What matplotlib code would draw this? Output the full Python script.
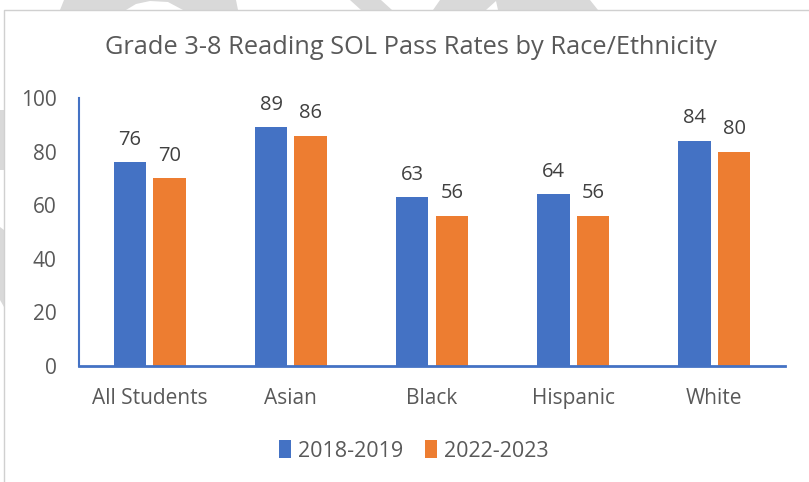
import numpy as np
import matplotlib.pyplot as plt
from matplotlib.patches import Polygon

categories = ["All Students", "Asian", "Black", "Hispanic", "White"]
rates_2019 = [76, 89, 63, 64, 84]
rates_2023 = [70, 86, 56, 56, 80]
series_names = ["2018-2019", "2022-2023"]

blue = "#4472C4"
orange = "#ED7D31"
gray = "#595959"

plt.rcParams['font.family'] = ['Open Sans', 'DejaVu Sans']

fig = plt.figure(figsize=(8.09, 4.82), dpi=100)
W, H = 809, 482

# faint watermark stripes behind the chart (pixel space)
bg = fig.add_axes([0, 0, 1, 1])
bg.set_xlim(0, W)
bg.set_ylim(H, 0)
bg.axis("off")
stripes = [
    [(64, 0), (236, 0), (238, 10), (183, 10), (168, 2), (150, 1), (136, 4), (126, 10), (60, 10)],
    [(350, 0), (381, 0), (392, 10), (361, 10)],
    [(440, 0), (590, 0), (598, 10), (498, 10), (496, 1), (486, 10), (433, 10)],
    [(0, 110), (4, 110), (4, 170), (0, 170)],
    [(0, 227), (4, 230), (4, 307), (0, 300)],
]
for pts in stripes:
    bg.add_patch(Polygon(pts, closed=True, color="#D9D9D9", lw=0))
bg.plot([4, 4, W], [H, 10, 10], color="#D0D0D0", lw=1)

ax = fig.add_axes([79 / W, (H - 366) / H, (785 - 79) / W, (366 - 98) / H])
ax.patch.set_alpha(0)

x = np.arange(len(categories))
w = 0.23
off = 0.14
b1 = ax.bar(x - off, rates_2019, w, color=blue, label=series_names[0])
b2 = ax.bar(x + off, rates_2023, w, color=orange, label=series_names[1])

for bars in (b1, b2):
    for r in bars:
        ax.annotate(f"{r.get_height():g}", (r.get_x() + r.get_width() / 2, r.get_height()),
                    xytext=(0, 9), textcoords="offset points", ha="center", va="bottom",
                    fontsize=14.5, color="#404040")

ax.set_xlim(-0.5, len(categories) - 0.5)
ax.set_ylim(0, 100)
ax.set_yticks(range(0, 101, 20))
ax.set_xticks(x)
ax.set_xticklabels(categories)
ax.tick_params(axis="both", length=0, labelsize=15, colors=gray)
ax.tick_params(axis="x", pad=16)
ax.tick_params(axis="y", pad=16)
for s in ["top", "right"]:
    ax.spines[s].set_visible(False)
ax.spines["left"].set_color(blue)
ax.spines["bottom"].set_color(blue)
ax.spines["left"].set_linewidth(1.5)
ax.spines["bottom"].set_linewidth(2)

fig.text(411 / W, 1 - 48 / H, "Grade 3-8 Reading SOL Pass Rates by Race/Ethnicity",
         ha="center", va="center", fontsize=18.3, color=gray)

fig.legend(handles=[b1, b2], loc="center", bbox_to_anchor=(414 / W, 1 - 451 / H),
           ncol=2, frameon=False, fontsize=15.5, handlelength=0.55, handleheight=0.9,
           handletextpad=0.35, columnspacing=1.0, labelcolor=gray)

fig.savefig("out.png", dpi=100)
